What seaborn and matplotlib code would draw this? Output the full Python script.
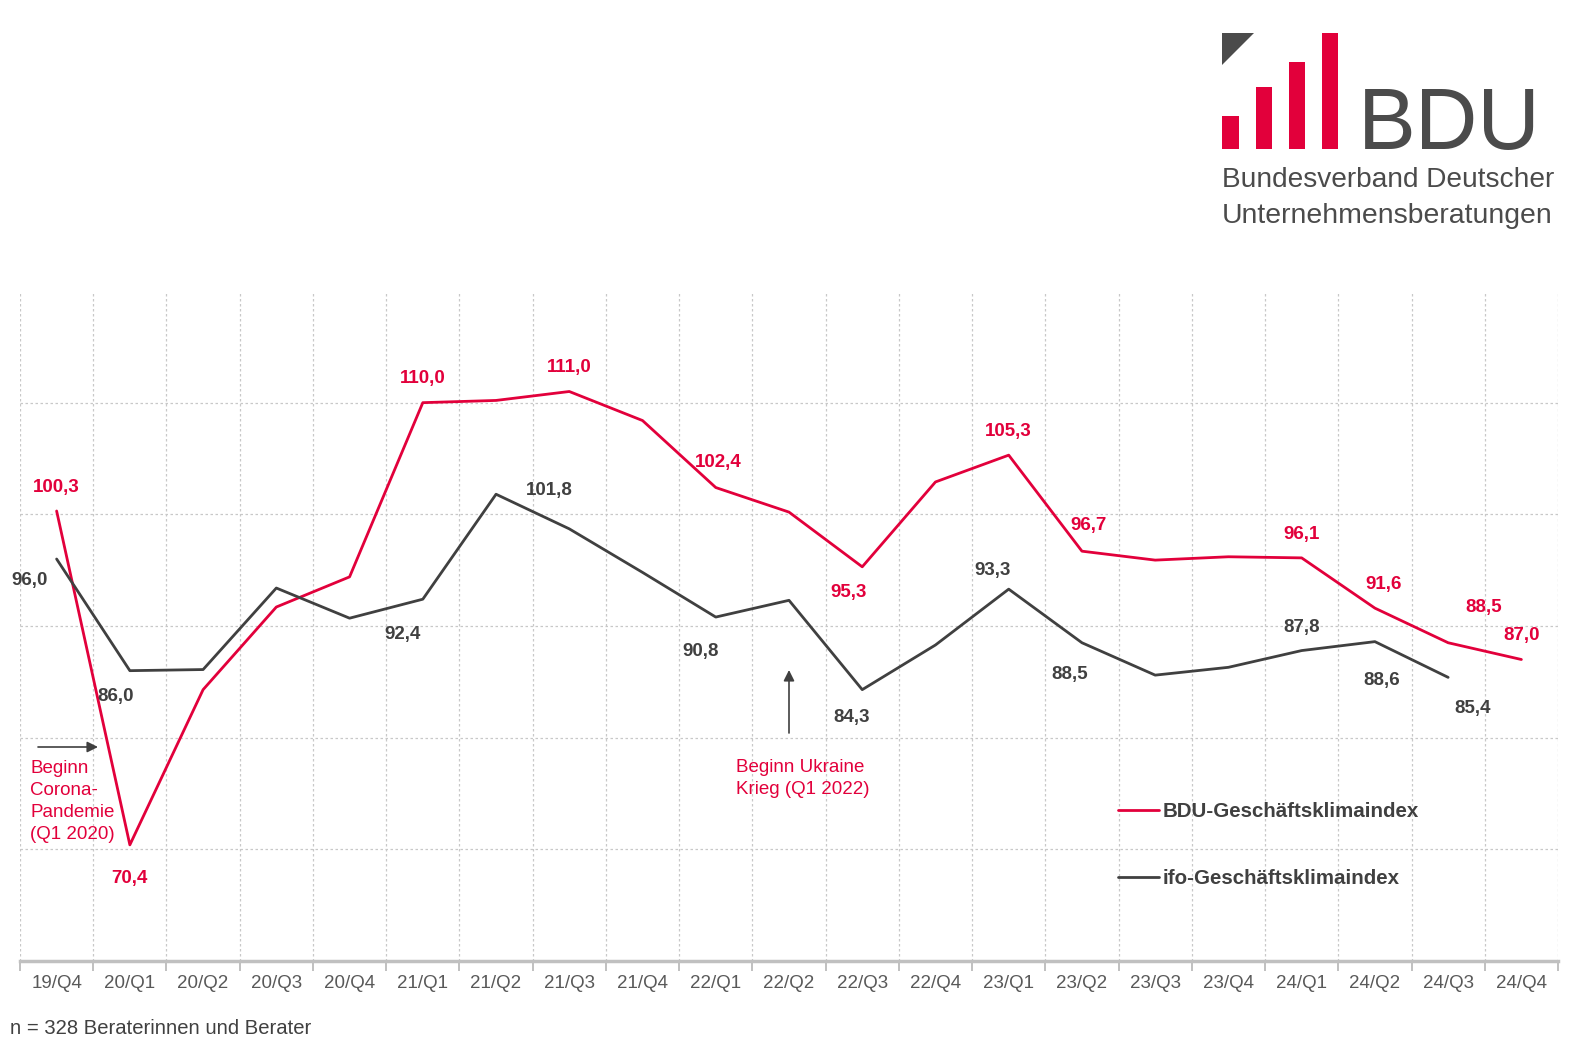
import numpy as np
import pandas as pd
import matplotlib
matplotlib.use("Agg")
import matplotlib.pyplot as plt
import seaborn as sns
from matplotlib.patches import Rectangle, Polygon

# ---------------- data ----------------
quarters = ["19/Q4", "20/Q1", "20/Q2", "20/Q3", "20/Q4", "21/Q1", "21/Q2", "21/Q3",
            "21/Q4", "22/Q1", "22/Q2", "22/Q3", "22/Q4", "23/Q1", "23/Q2", "23/Q3",
            "23/Q4", "24/Q1", "24/Q2", "24/Q3", "24/Q4"]
bdu_values = [100.3, 70.4, 84.3, 91.7, 94.4, 110.0, 110.2, 111.0, 108.4, 102.4, 100.2,
              95.3, 102.9, 105.3, 96.7, 95.9, 96.2, 96.1, 91.6, 88.5, 87.0]
ifo_values = [96.0, 86.0, 86.1, 93.4, 90.7, 92.4, 101.8, 98.7, 94.8, 90.8, 92.3,
              84.3, 88.3, 93.3, 88.5, 85.6, 86.3, 87.8, 88.6, 85.4, np.nan]
series_names = ["BDU-Geschäftsklimaindex", "ifo-Geschäftsklimaindex"]
bdu_labeled = [0, 1, 5, 7, 9, 11, 13, 14, 17, 18, 19, 20]
ifo_labeled = [0, 1, 5, 6, 9, 11, 13, 14, 17, 18, 19]
corona_text = "Beginn\nCorona-\nPandemie\n(Q1 2020)"
ukraine_text = "Beginn Ukraine\nKrieg (Q1 2022)"
footnote = "n = 328 Beraterinnen und Berater"
logo_word = "BDU"
logo_line1 = "Bundesverband Deutscher"
logo_line2 = "Unternehmensberatungen"

# ---------------- layout / style ----------------
RED = "#e2003b"
DARK = "#404040"
LOGO_GREY = "#4b4b4b"
GRID = "#c8c8c8"
W, H = 1586, 1050

# label offsets in pixels (dx right, dy up)
bdu_offsets = {0: (0, 23), 1: (0, -34), 5: (0, 24), 7: (0, 24), 9: (2, 25),
               11: (-14, -26), 13: (0, 24), 14: (7, 26), 17: (0, 23),
               18: (9, 24), 19: (36, 35), 20: (0, 24)}
ifo_offsets = {0: (-27, -22), 1: (-14, -26), 5: (-20, -35), 6: (53, 4),
               9: (-15, -34), 11: (-11, -28), 13: (-16, 19), 14: (-12, -32),
               17: (0, 23), 18: (7, -39), 19: (24, -31)}

sns.set_theme(style="white")
plt.rcParams["font.family"] = ["Liberation Sans", "DejaVu Sans"]
NARROW = ["Liberation Sans Narrow", "Liberation Sans", "DejaVu Sans"]

fig = plt.figure(figsize=(W / 100, H / 100), dpi=100)
ax = fig.add_axes([20 / W, (H - 961) / H, 1538 / W, 670 / H])

n = len(quarters)
df = pd.DataFrame({
    "pos": np.tile(np.arange(n), 2),
    "value": bdu_values + ifo_values,
    "series": [series_names[0]] * n + [series_names[1]] * n,
}).dropna()

sns.lineplot(data=df, x="pos", y="value", hue="series", hue_order=series_names,
             palette={series_names[0]: RED, series_names[1]: DARK},
             linewidth=2.0, sort=False, ax=ax, zorder=3)

ax.set_xlim(-0.5, n - 0.5)
ax.set_ylim(60, 120)
ax.set_xlabel("")
ax.set_ylabel("")

ax.set_yticks([70, 80, 90, 100, 110])
ax.set_yticklabels([])
ax.tick_params(axis="y", length=0)
ax.yaxis.grid(True, color=GRID, linestyle=(0, (2, 2)), linewidth=0.9)

ax.set_xticks(np.arange(n))
ax.set_xticklabels(quarters, fontsize=13.5, color="#595959", family=NARROW)
ax.set_xticks(np.arange(-0.5, n, 1.0), minor=True)
ax.tick_params(axis="x", which="major", length=0, pad=10)
ax.tick_params(axis="x", which="minor", length=7, width=1.2, color="#b5b5b5",
               direction="out", bottom=True)
ax.xaxis.grid(True, which="minor", color=GRID, linestyle=(0, (2, 2)), linewidth=0.9)
ax.xaxis.grid(False, which="major")

for s in ["left", "right", "top"]:
    ax.spines[s].set_visible(False)
ax.spines["bottom"].set_color("#c0c0c0")
ax.spines["bottom"].set_linewidth(2.5)

# data labels
def fmt(v):
    return f"{v:.1f}".replace(".", ",")

for i in bdu_labeled:
    dx, dy = bdu_offsets[i]
    ax.annotate(fmt(bdu_values[i]), xy=(i, bdu_values[i]), xytext=(dx * 0.72, dy * 0.72),
                textcoords="offset points", ha="center", va="center",
                fontsize=13.5, fontweight="bold", color=RED, zorder=5)
for i in ifo_labeled:
    dx, dy = ifo_offsets[i]
    ax.annotate(fmt(ifo_values[i]), xy=(i, ifo_values[i]), xytext=(dx * 0.72, dy * 0.72),
                textcoords="offset points", ha="center", va="center",
                fontsize=13.5, fontweight="bold", color=DARK, zorder=5)

# legend
handles, labels = ax.get_legend_handles_labels()
leg = ax.legend(handles, labels, frameon=False, loc="upper left",
                bbox_to_anchor=(1110 / W, 1 - 794 / H), bbox_transform=fig.transFigure,
                borderaxespad=0, handlelength=2.0, handletextpad=0.15,
                labelspacing=2.32, labelcolor=DARK, prop={"weight": "bold", "size": 14.8})
for line in leg.get_lines():
    line.set_linewidth(2.0)

# overlay in pixel coordinates for annotations and logo
ov = fig.add_axes([0, 0, 1, 1])
ov.set_xlim(0, W)
ov.set_ylim(H, 0)
ov.axis("off")

ov.annotate("", xy=(98, 747), xytext=(38, 747),
            arrowprops=dict(arrowstyle="-|>", color=DARK, lw=1.2, mutation_scale=16,
                            shrinkA=0, shrinkB=0))
ov.text(30, 760, corona_text, color=RED, fontsize=13.5, ha="left", va="top",
        linespacing=1.39)
ov.annotate("", xy=(789, 670), xytext=(789, 733),
            arrowprops=dict(arrowstyle="-|>", color=DARK, lw=1.2, mutation_scale=16,
                            shrinkA=0, shrinkB=0))
ov.text(736, 759, ukraine_text, color=RED, fontsize=13.5, ha="left", va="top",
        linespacing=1.36)

ov.text(10, 1029, footnote, color=DARK, fontsize=14.6, ha="left", va="center",
        family=NARROW)

# logo
ov.add_patch(Polygon([(1222, 33), (1254, 33), (1222, 65)], closed=True,
                     facecolor=LOGO_GREY, edgecolor="none"))
for (x0, y0, w, h) in [(1222, 116, 17, 33), (1256, 87, 16, 62),
                       (1289, 62, 16, 87), (1322, 33, 16, 116)]:
    ov.add_patch(Rectangle((x0, y0), w, h, facecolor=RED, edgecolor="none"))

# cap height 62 px -> font size in points (Liberation Sans cap height ~0.716 em)
t_word = ov.text(1358, 149, logo_word, color=LOGO_GREY, fontsize=62 / 0.716 * 0.72,
                 ha="left", va="baseline")
t1 = ov.text(1222, 187, logo_line1, color=LOGO_GREY, fontsize=20, ha="left",
             va="baseline")
t2 = ov.text(1222, 223, logo_line2, color=LOGO_GREY, fontsize=20, ha="left",
             va="baseline")

fig.canvas.draw()
r = fig.canvas.get_renderer()
for t, target in [(t1, 330), (t2, 328)]:
    wpx = t.get_window_extent(renderer=r).width
    t.set_fontsize(t.get_fontsize() * target / wpx)

fig.savefig("out.png", dpi=100, facecolor="white")
